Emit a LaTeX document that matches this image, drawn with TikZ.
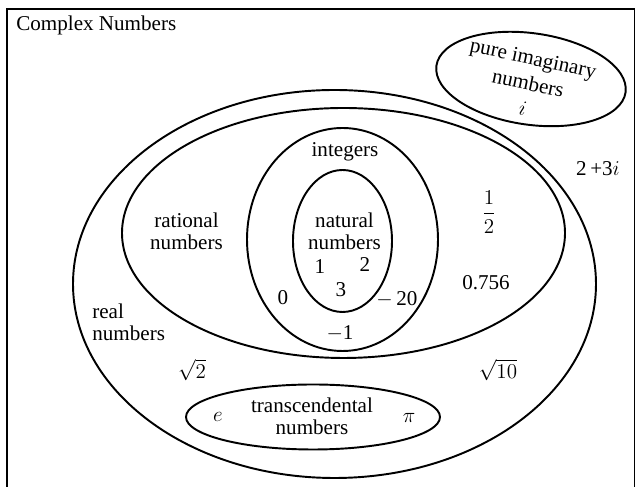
\documentclass[tikz,border=0pt]{standalone}
\usepackage{fontspec}
\setmainfont{Liberation Serif}
\usetikzlibrary{shapes.geometric}
\tikzset{
  numset/.style = {ellipse, draw, line width=1.1pt, inner sep=0pt},
  lab/.style    = {inner sep=0pt, font=\fontsize{12}{12.5}\selectfont, align=center},
  frame/.style  = {line width=0.8pt},
}

\begin{document}
\begin{tikzpicture}
\useasboundingbox (0,0) rectangle (12.72,-9.74);
\draw[frame] (0.14,-9.9) -- (0.14,-0.18) -- (12.69,-0.18) -- (12.69,-9.9);

% the sets
\node[numset, minimum width=10.46cm, minimum height=7.76cm] (real) at (6.69,-5.68) {};
\node[numset, minimum width=8.86cm, minimum height=5.0cm] (rational) at (6.87,-4.66) {};
\node[numset, minimum width=3.82cm, minimum height=4.46cm] (integers) at (6.85,-4.79) {};
\node[numset, minimum width=1.98cm, minimum height=2.84cm] (natural) at (6.85,-4.82) {};
\node[numset, minimum width=5.08cm, minimum height=1.30cm] (transc) at (6.26,-8.34) {};
\node[numset, minimum width=3.82cm, minimum height=1.83cm, rotate=-8] (imag) at (10.62,-1.58) {};

% names and members
\node[lab, anchor=base west] (cplxlab) at (0.32,-0.62) {Complex Numbers};
\node[lab, rotate=-12, font=\fontsize{12}{14.5}\selectfont] (imaglab) at (10.56,-1.66) {pure imaginary\\numbers\\$i$};
\node[lab] (z) at (11.96,-3.38) {2\,+3$i$};
\node[lab, anchor=base] (intlab) at (6.90,-3.14) {integers};
\node[lab] (ratlab) at (3.73,-4.62) {rational\\numbers};
\node[lab] (natlab) at (6.89,-4.62) {natural\\numbers};
\node[lab] (n1) at (6.40,-5.34) {1};
\node[lab] (n2) at (7.30,-5.30) {2};
\node[lab] (n3) at (6.82,-5.80) {3};
\node[lab] (n0) at (5.66,-5.96) {0};
\node[lab] (nm20) at (7.94,-5.98) {$-$\,20};
\node[lab] (nm1) at (6.80,-6.66) {$-$1};
\node[lab] (half) at (9.78,-4.24) {$\displaystyle\frac{1}{2}$};
\node[lab] (dec) at (9.72,-5.66) {0.756};
\node[lab, align=left, anchor=west] (reallab) at (1.84,-6.45) {real\\numbers};
\node[lab] (sq2) at (3.84,-7.40) {$\sqrt{2}$};
\node[lab] (sq10) at (9.96,-7.40) {$\sqrt{10}$};
\node[lab] (e) at (4.36,-8.34) {$e$};
\node[lab] (translab) at (6.24,-8.32) {transcendental\\numbers};
\node[lab] (pi) at (8.18,-8.36) {$\pi$};
\end{tikzpicture}
\end{document}
